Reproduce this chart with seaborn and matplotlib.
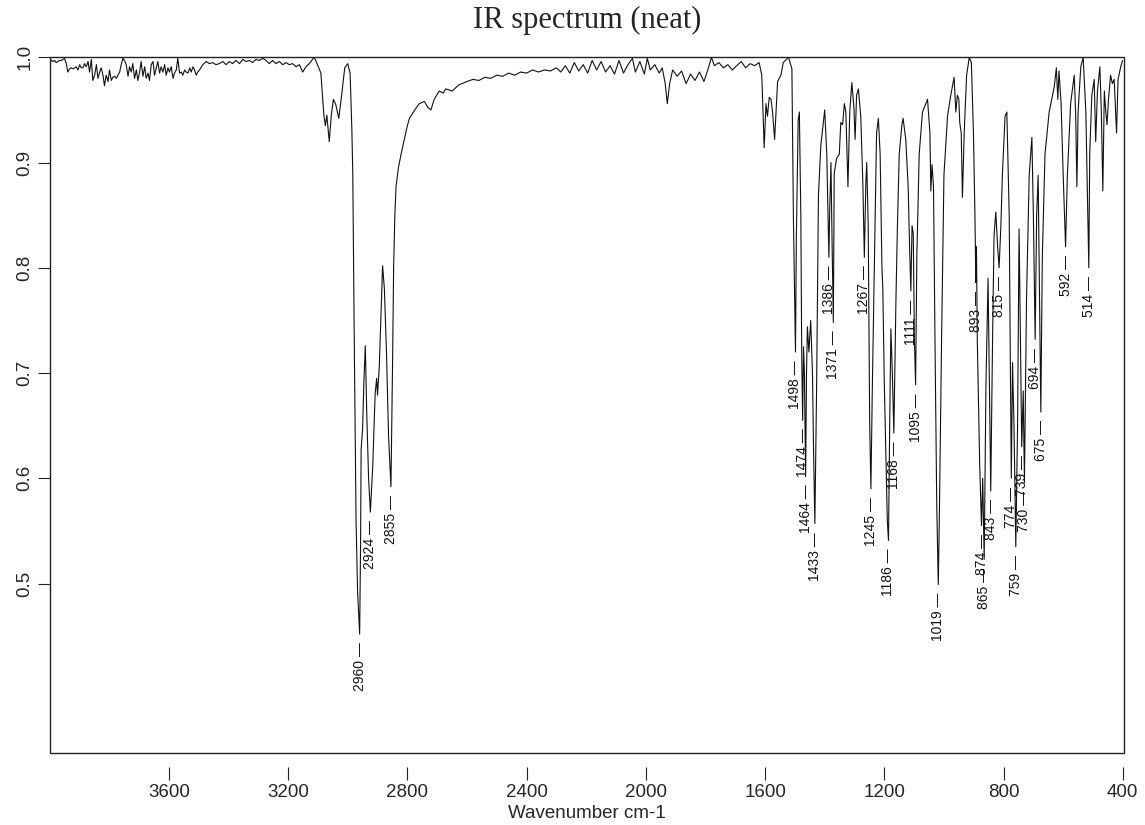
import numpy as np
import pandas as pd
import matplotlib
matplotlib.use("Agg")
import matplotlib.pyplot as plt
from matplotlib.patches import Rectangle
import seaborn as sns

# ---------------- data ----------------
# 4000-3112 cm-1 : baseline noise region
wn_noise = [4000, 3994, 3989, 3983, 3978, 3972, 3966, 3961, 3955, 3950, 3944, 3939, 3933, 3927,
            3922, 3916, 3911, 3905, 3899, 3894, 3888, 3883, 3877, 3871, 3866, 3860, 3855, 3849,
            3843, 3838, 3832, 3827, 3821, 3816, 3810, 3804, 3799, 3793, 3788, 3782, 3776, 3771,
            3765, 3760, 3754, 3749, 3743, 3737, 3732, 3726, 3721, 3715, 3709, 3704, 3698, 3693,
            3687, 3681, 3676, 3670, 3665, 3659, 3653, 3648, 3642, 3637, 3631, 3626, 3620, 3614,
            3609, 3603, 3598, 3592, 3586, 3581, 3575, 3570, 3564, 3558, 3553, 3547, 3542, 3536,
            3530, 3525, 3519, 3514, 3508, 3503, 3497, 3486, 3475, 3464, 3453, 3442, 3431, 3419,
            3408, 3397, 3386, 3375, 3363, 3352, 3341, 3330, 3319, 3308, 3296, 3285, 3274, 3263,
            3252, 3241, 3229, 3218, 3207, 3196, 3185, 3173, 3162, 3151, 3140, 3129, 3118, 3112]
t_noise = [.999, .997, .996, .997, .995, .996, .997, .997, .998, .999, .994, .986, .989, .990,
           .989, .990, .991, .988, .993, .990, .990, .994, .991, .996, .986, .998, .978, .983,
           .993, .980, .986, .990, .983, .973, .983, .977, .988, .978, .981, .982, .980, .983,
           .986, .993, .999, .997, .993, .982, .991, .986, .994, .980, .988, .978, .986, .996,
           .982, .991, .980, .985, .978, .993, .996, .983, .990, .996, .985, .991, .986, .993,
           .983, .990, .986, .991, .980, .985, .988, .999, .985, .986, .983, .988, .986, .985,
           .990, .986, .991, .988, .983, .986, .988, .993, .996, .994, .995, .993, .994, .996,
           .993, .996, .994, .997, .994, .998, .996, .997, .995, .998, .997, .999, .997, .994,
           .997, .994, .996, .993, .995, .993, .994, .991, .993, .986, .991, .994, .998, 1.000]

# 3100-2626 cm-1 : C-H stretching region
wn_ch = [3100, 3090, 3080, 3075, 3070, 3062, 3055, 3048, 3040, 3030, 3020, 3010, 3000, 2992,
         2986, 2983, 2978, 2972, 2967, 2960, 2957, 2955, 2950, 2946, 2941, 2936, 2930, 2924,
         2916, 2908, 2903, 2900, 2894, 2888, 2883, 2877, 2870, 2863, 2855, 2850, 2846, 2842,
         2838, 2830, 2821, 2810, 2800, 2793, 2775, 2760, 2743, 2730, 2721, 2710, 2693, 2680,
         2671, 2650, 2626]
t_ch = [.992, .985, .945, .935, .945, .920, .945, .960, .955, .942, .965, .990, .994, .985,
        .930, .889, .730, .560, .493, .452, .533, .628, .647, .690, .726, .660, .600, .568,
        .612, .680, .695, .679, .707, .760, .802, .780, .720, .640, .592, .700, .800, .849,
        .877, .895, .908, .922, .935, .942, .950, .956, .958, .952, .950, .960, .968, .966,
        .970, .968, .974]

# 2600-1635 cm-1 : flat middle region
wn_mid = [2600, 2580, 2560, 2540, 2520, 2500, 2480, 2460, 2440, 2420, 2400, 2380, 2360, 2340,
          2320, 2300, 2285, 2270, 2255, 2240, 2225, 2210, 2195, 2180, 2165, 2150, 2135, 2120,
          2105, 2090, 2075, 2060, 2045, 2035, 2020, 2005, 1995, 1985, 1970, 1955, 1945, 1935,
          1928, 1920, 1910, 1895, 1880, 1865, 1850, 1835, 1820, 1805, 1790, 1780, 1770, 1755,
          1740, 1725, 1710, 1695, 1680, 1665, 1650, 1635]
t_mid = [.977, .979, .978, .981, .980, .983, .982, .985, .983, .986, .985, .988, .986, .988,
         .987, .990, .986, .992, .985, .995, .987, .993, .985, .997, .988, .996, .986, .992,
         .984, .997, .985, .993, .999, .986, .996, .984, .999, .988, .993, .985, .990, .975,
         .956, .975, .988, .982, .987, .975, .984, .978, .986, .977, .990, 1.000, .992, .995,
         .990, .993, .988, .992, .996, .990, .994, .992]

# 1620-955 cm-1 : fingerprint region I
wn_fp1 = [1620, 1611, 1603, 1597, 1592, 1586, 1580, 1575, 1568, 1558, 1547, 1539, 1521, 1510,
          1505, 1498, 1495, 1489, 1485, 1480, 1477, 1474, 1471, 1468, 1464, 1461, 1458, 1453,
          1447, 1441, 1437, 1433, 1427, 1421, 1413, 1400, 1393, 1386, 1383, 1379, 1375, 1371,
          1368, 1360, 1351, 1346, 1340, 1334, 1329, 1322, 1316, 1309, 1302, 1298, 1293, 1287,
          1279, 1272, 1267, 1262, 1259, 1254, 1249, 1245, 1240, 1234, 1226, 1220, 1214, 1208,
          1205, 1200, 1190, 1186, 1182, 1178, 1173, 1168, 1161, 1156, 1150, 1141, 1137, 1128,
          1120, 1115, 1111, 1107, 1103, 1099, 1095, 1091, 1083, 1072, 1055, 1047, 1044, 1040,
          1035, 1030, 1024, 1019, 1015, 1008, 1000, 988, 977, 966, 960, 955]
t_fp1 = [.995, .983, .914, .956, .944, .962, .960, .948, .922, .977, .983, .995, 1.000, .989,
         .849, .720, .830, .940, .948, .849, .715, .655, .725, .700, .602, .700, .744, .720,
         .750, .700, .620, .557, .690, .869, .916, .950, .908, .810, .857, .900, .820, .748,
         .890, .904, .908, .938, .936, .956, .948, .877, .948, .976, .952, .922, .964, .970,
         .944, .880, .810, .880, .900, .840, .650, .590, .690, .790, .928, .942, .908, .800,
         .780, .690, .560, .541, .650, .742, .700, .643, .770, .840, .908, .936, .942, .922,
         .877, .817, .778, .840, .833, .730, .689, .810, .908, .948, .960, .928, .873, .898,
         .877, .730, .572, .499, .572, .730, .888, .944, .964, .981, .948, .964]

# 950-401 cm-1 : fingerprint region II
wn_fp2 = [950, 947, 942, 938, 932, 924, 915, 908, 901, 896, 893, 891, 888, 880, 874, 870, 865,
          859, 852, 848, 843, 837, 832, 826, 820, 815, 809, 804, 795, 789, 781, 777, 774, 770,
          765, 759, 753, 748, 743, 739, 734, 730, 723, 714, 705, 700, 694, 689, 684, 681, 675,
          670, 661, 647, 630, 623, 618, 614, 607, 600, 592, 586, 575, 563, 558, 554, 550, 541,
          533, 524, 514, 511, 504, 496, 491, 485, 477, 472, 467, 462, 457, 453, 448, 441, 435,
          429, 421, 416, 407, 401]
t_fp2 = [.960, .938, .928, .867, .928, .983, 1.000, .995, .928, .850, .786, .820, .730, .612,
         .555, .600, .523, .690, .790, .700, .588, .730, .830, .853, .820, .800, .840, .888,
         .944, .948, .849, .700, .600, .710, .650, .535, .650, .837, .720, .630, .683, .596,
         .770, .888, .924, .850, .732, .850, .888, .810, .663, .810, .908, .948, .972, .990,
         .960, .987, .956, .888, .820, .888, .956, .983, .944, .877, .948, .991, 1.000, .948,
         .800, .908, .964, .979, .920, .968, .991, .948, .873, .968, .948, .936, .960, .983,
         .975, .979, .928, .979, .991, .997]

# labelled peaks (cm-1)
peak_labels = [2960, 2924, 2855, 1498, 1474, 1464, 1433, 1386, 1371, 1267, 1245, 1186, 1168,
               1111, 1095, 1019, 893, 874, 865, 843, 815, 774, 759, 739, 730, 694, 675, 592, 514]

x_ticks = [3600, 3200, 2800, 2400, 2000, 1600, 1200, 800, 400]
y_ticks = [0.5, 0.6, 0.7, 0.8, 0.9, 1.0]
y_tick_labels = ["0.5", "0.6", "0.7", "0.8", "0.9", "1.0"]

title_text = "IR spectrum (neat)"
x_label = "Wavenumber cm-1"

# ---------------- build table ----------------
wn = np.array(wn_noise + wn_ch + wn_mid + wn_fp1 + wn_fp2, dtype=float)
tr = np.array(t_noise + t_ch + t_mid + t_fp1 + t_fp2, dtype=float)
df = pd.DataFrame({"Wavenumber": wn, "Transmittance": tr})

# ---------------- plot ----------------
sns.set_theme(style="white")
plt.rcParams["font.family"] = ["Liberation Sans", "DejaVu Sans"]

W, H = 1145, 825
fig = plt.figure(figsize=(W / 100, H / 100), dpi=100)
left_px, right_px, top_px, bottom_px = 50.2, 1124.0, 57.3, 753.0
ax = fig.add_axes([left_px / W, 1 - bottom_px / H,
                   (right_px - left_px) / W, (bottom_px - top_px) / H])

sns.lineplot(data=df, x="Wavenumber", y="Transmittance", ax=ax, color="#111111",
             linewidth=0.8, estimator=None, sort=True)

ax.set_xlim(3998, 396)
ax.set_ylim(0.339, 1.0)
ax.set_xticks(x_ticks)
ax.set_xticklabels([str(v) for v in x_ticks])
ax.set_yticks(y_ticks)
ax.set_yticklabels(y_tick_labels, rotation=90, va="center")

for s in ax.spines.values():
    s.set_visible(False)
ax.spines["bottom"].set_position(("outward", 10))
ax.add_patch(Rectangle((0, 0), 1, 1, transform=ax.transAxes, fill=False,
                       lw=1.0, ec="#222222", clip_on=False, zorder=5))

ax.tick_params(axis="x", direction="out", length=9, width=0.8, color="#222222",
               pad=3, labelsize=13.5, bottom=True)
ax.tick_params(axis="y", direction="out", length=9, width=0.8, color="#222222",
               pad=3, labelsize=13.5, left=True)

ax.set_xlabel(x_label, fontsize=13.5, labelpad=3)
ax.set_ylabel("")
ax.set_title(title_text, family=["Liberation Serif", "DejaVu Serif"], fontsize=22, pad=21)

order = np.argsort(wn)
for w in peak_labels:
    t = float(np.interp(w, wn[order], tr[order]))
    ax.text(w, t - 0.008, f"{w} \u2014", rotation=90, rotation_mode="anchor",
            ha="right", va="center", fontsize=10, color="#111111")

fig.savefig("out.png", dpi=100, facecolor="white")
